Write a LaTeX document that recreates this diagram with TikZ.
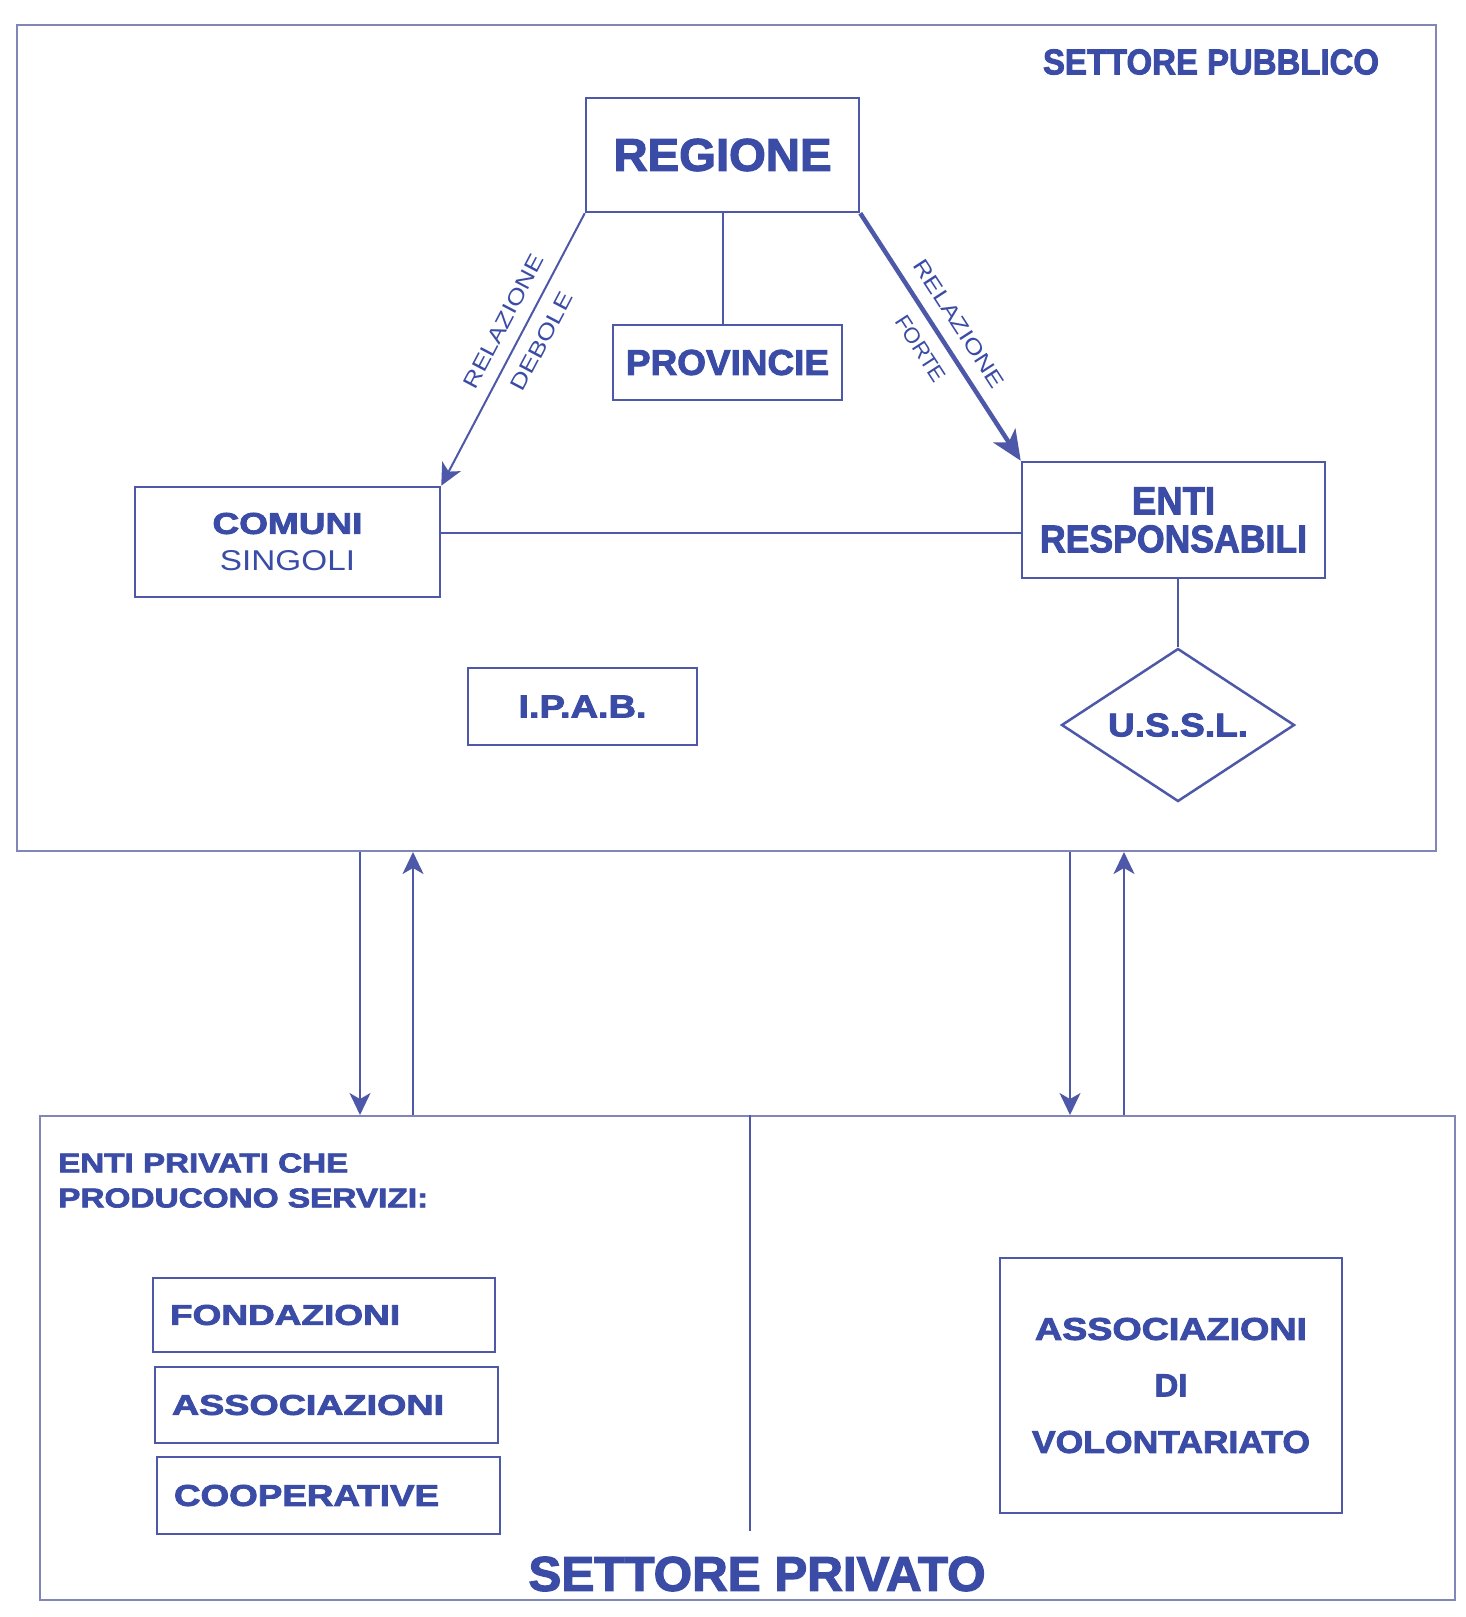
\documentclass[tikz,border=0pt]{standalone}
\usepackage{fontspec}
\usetikzlibrary{arrows.meta,shapes.geometric}
\newfontfamily\heavyfont{Liberation Sans}[BoldFeatures={FakeBold=2.5}]
\newfontfamily\plainfont{Liberation Sans}
\newcommand\hv{\heavyfont\bfseries}
% set a word to an exact width and cap height
\newcommand\fitbox[3]{\resizebox{#1pt}{#2pt}{#3}}
\definecolor{ink}{RGB}{58,76,165}
\definecolor{rule}{RGB}{78,88,168}
\definecolor{framec}{RGB}{128,134,184}
\begin{document}
\begin{tikzpicture}[x=1pt,y=-1pt,
  box/.style={draw=rule,line width=2.5pt,inner sep=0pt,text=ink},
  sector/.style={draw=framec,line width=2pt,inner sep=0pt},
  link/.style={draw=rule,line width=2pt},
  thin tip/.style={-{Stealth[length=22pt,width=21pt,inset=6pt]}},
  thick tip/.style={-{Stealth[length=30pt,width=26pt,inset=8pt]}},
  lbl/.style={text=ink,inner xsep=0pt,inner ysep=13pt},
  title/.style={text=ink,inner sep=0pt}]
\fill[white] (0,0) rectangle (1466,1617);
\useasboundingbox (0,0) rectangle (1466,1617);

% the two sectors
\node[sector,minimum width=1419pt,minimum height=826pt] (pub) at (726.5,438) {};
\node[sector,minimum width=1415pt,minimum height=484pt] (priv) at (747.5,1358) {};
\node[title] (pubtitle) at (1211,62) {\fitbox{336}{25}{\hv SETTORE PUBBLICO}};
\node[title] (privtitle) at (757,1574) {\fitbox{457}{34}{\hv SETTORE PRIVATO}};

% public bodies
\node[box,minimum width=273pt,minimum height=114pt] (reg) at (722.5,155)
  {\fitbox{218}{32}{\hv REGIONE}};
\node[box,minimum width=229pt,minimum height=75pt] (prov) at (727.5,362.5)
  {\fitbox{203}{25}{\hv PROVINCIE}};
\node[box,minimum width=305pt,minimum height=110pt,align=center,
  font=\fontsize{10}{37}\selectfont] (com) at (287.5,542)
  {\fitbox{150}{21}{\hv COMUNI}\\\fitbox{135}{20}{\plainfont SINGOLI}};
\node[box,minimum width=303pt,minimum height=116pt,align=center,
  font=\fontsize{10}{38}\selectfont] (enti) at (1173.5,520)
  {\fitbox{83}{27}{\hv ENTI}\\\fitbox{267}{27}{\hv RESPONSABILI}};
\node[box,minimum width=229pt,minimum height=77pt] (ipab) at (582.5,706.5)
  {\fitbox{128}{22}{\hv I.P.A.B.}};
\node[box,diamond,aspect=1.52,minimum width=233pt,minimum height=153pt] (ussl) at (1178,725)
  {\fitbox{140}{23}{\hv U.S.S.L.}};

% private bodies
\node[title,anchor=west] (epc1) at (58,1163) {\fitbox{290}{19}{\hv ENTI PRIVATI CHE}};
\node[title,anchor=west] (epc2) at (58,1198) {\fitbox{370}{19}{\hv PRODUCONO SERVIZI:}};
\node[box,text width=308pt,inner xsep=17pt,align=left,minimum height=74pt] (fond) at (324,1315)
  {\fitbox{230}{20}{\hv FONDAZIONI}};
\node[box,text width=309pt,inner xsep=17pt,align=left,minimum height=76pt] (assoc) at (326.5,1405)
  {\fitbox{272}{20}{\hv ASSOCIAZIONI}};
\node[box,text width=309pt,inner xsep=17pt,align=left,minimum height=77pt] (coop) at (328.5,1495.5)
  {\fitbox{265}{21}{\hv COOPERATIVE}};
\node[box,minimum width=342pt,minimum height=255pt,align=center,
  font=\fontsize{10}{56.5}\selectfont] (vol) at (1171,1385.5)
  {\fitbox{272}{22}{\hv ASSOCIAZIONI}\\\fitbox{33}{22}{\hv DI}\\\fitbox{278}{22}{\hv VOLONTARIATO}};

% links inside the public sector
\coordinate (midrow) at (0,533);
\draw[link] (reg.south) -- (reg.south |- prov.north);
\draw[link] (com.east |- midrow) -- (enti.west |- midrow);
\draw[link] (enti.south -| ussl.north) -- (ussl.north);
\draw[link,thin tip] (reg.south west) --
  node[lbl,sloped,anchor=south,pos=.434] {\fitbox{148}{15}{\plainfont RELAZIONE}}
  node[lbl,sloped,anchor=north,pos=.434] {\fitbox{108}{15}{\plainfont DEBOLE}}
  (com.north east);
\draw[link,line width=4.5pt,thick tip] (reg.south east) --
  node[lbl,sloped,anchor=south,pos=.497] {\fitbox{148}{15}{\plainfont RELAZIONE}}
  node[lbl,sloped,anchor=north,pos=.497] {\fitbox{75}{15}{\plainfont FORTE}}
  (enti.north west);

% exchanges between the two sectors
\coordinate (lx1) at (360,0);
\coordinate (lx2) at (413,0);
\coordinate (rx1) at (1070,0);
\coordinate (rx2) at (1124,0);
\draw[link,thin tip] (lx1 |- pub.south) -- (lx1 |- priv.north);
\draw[link,thin tip] (lx2 |- priv.north) -- (lx2 |- pub.south);
\draw[link,thin tip] (rx1 |- pub.south) -- (rx1 |- priv.north);
\draw[link,thin tip] (rx2 |- priv.north) -- (rx2 |- pub.south);

% divider of the private sector
\coordinate (divfoot) at (750,1531);
\draw[link] (divfoot |- priv.north) -- (divfoot);
\end{tikzpicture}
\end{document}
